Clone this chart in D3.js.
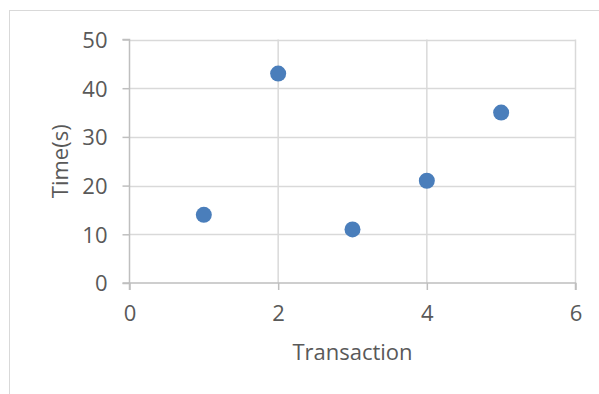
<!DOCTYPE html>
<html>
<head>
<meta charset="utf-8">
<script src="https://cdn.jsdelivr.net/npm/d3@7"></script>
<style>
  body { margin: 0; background: #fff; }
  svg { display: block; font-family: "Open Sans", sans-serif; }
</style>
</head>
<body>
<div id="root"></div>
<script>
// data
var transactions = [1, 2, 3, 4, 5];
var times = [14, 43, 11, 21, 35];
var xTicks = [0, 2, 4, 6];
var yTicks = [0, 10, 20, 30, 40, 50];

var width = 599, height = 394;
var svg = d3.select("#root").append("svg")
    .attr("width", width)
    .attr("height", height);

// chart border (runs off the right/bottom edge)
svg.append("rect")
    .attr("x", 9.5).attr("y", 10.5)
    .attr("width", 620).attr("height", 420)
    .attr("fill", "#fff")
    .attr("stroke", "#d9d9d9");

var x = d3.scaleLinear().domain([0, 6]).range([129.5, 575.5]);
var y = d3.scaleLinear().domain([0, 50]).range([283, 39.5]);

var g = svg.append("g");

// grid lines
g.selectAll(".hgrid").data(yTicks.slice(1)).enter().append("line")
    .attr("x1", x(0)).attr("x2", x(6))
    .attr("y1", function(d) { return Math.round(y(d)) + 0.5; })
    .attr("y2", function(d) { return Math.round(y(d)) + 0.5; })
    .attr("stroke", "#d9d9d9").attr("stroke-width", 1.5);
g.selectAll(".vgrid").data(xTicks.slice(1)).enter().append("line")
    .attr("x1", function(d) { return x(d); })
    .attr("x2", function(d) { return x(d); })
    .attr("y1", y(50)).attr("y2", y(0))
    .attr("stroke", "#d9d9d9").attr("stroke-width", 1.5);

// axes
var yAxis = d3.axisLeft(y).tickValues(yTicks).tickSize(7).tickPadding(15).tickFormat(d3.format("d"));
var xAxis = d3.axisBottom(x).tickValues(xTicks).tickSize(7).tickPadding(15).tickFormat(d3.format("d"));

var ya = g.append("g").attr("transform", "translate(" + x(0) + ",0)").call(yAxis);
var xa = g.append("g").attr("transform", "translate(0," + y(0) + ")").call(xAxis);

[ya, xa].forEach(function(a) {
    a.select(".domain").attr("stroke", "#bfbfbf").attr("stroke-width", 1.5);
    a.selectAll(".tick line").attr("stroke", "#bfbfbf").attr("stroke-width", 1.5);
    a.selectAll(".tick text")
        .attr("fill", "#595959")
        .style("font-size", "22px")
        .style("font-family", "'Open Sans', sans-serif");
});
ya.select(".domain").attr("d", "M-7," + y(50) + "H0V" + y(0) + "H-7");
xa.select(".domain").attr("d", "M" + x(0) + ",7V0H" + x(6) + "V7");
ya.selectAll(".tick text").attr("dy", "0.36em");

// points
g.selectAll("circle").data(transactions).enter().append("circle")
    .attr("cx", function(d) { return x(d); })
    .attr("cy", function(d, i) { return y(times[i]); })
    .attr("r", 8)
    .attr("fill", "#4a7ebb");

// axis titles
svg.append("text")
    .attr("x", (x(0) + x(6)) / 2).attr("y", 360)
    .attr("text-anchor", "middle")
    .attr("fill", "#595959")
    .style("font-size", "22px")
    .text("Transaction");

svg.append("text")
    .attr("transform", "translate(68," + (y(0) + y(50)) / 2 + ") rotate(-90)")
    .attr("text-anchor", "middle")
    .attr("fill", "#595959")
    .style("font-size", "22px")
    .text("Time(s)");
</script>
</body>
</html>
